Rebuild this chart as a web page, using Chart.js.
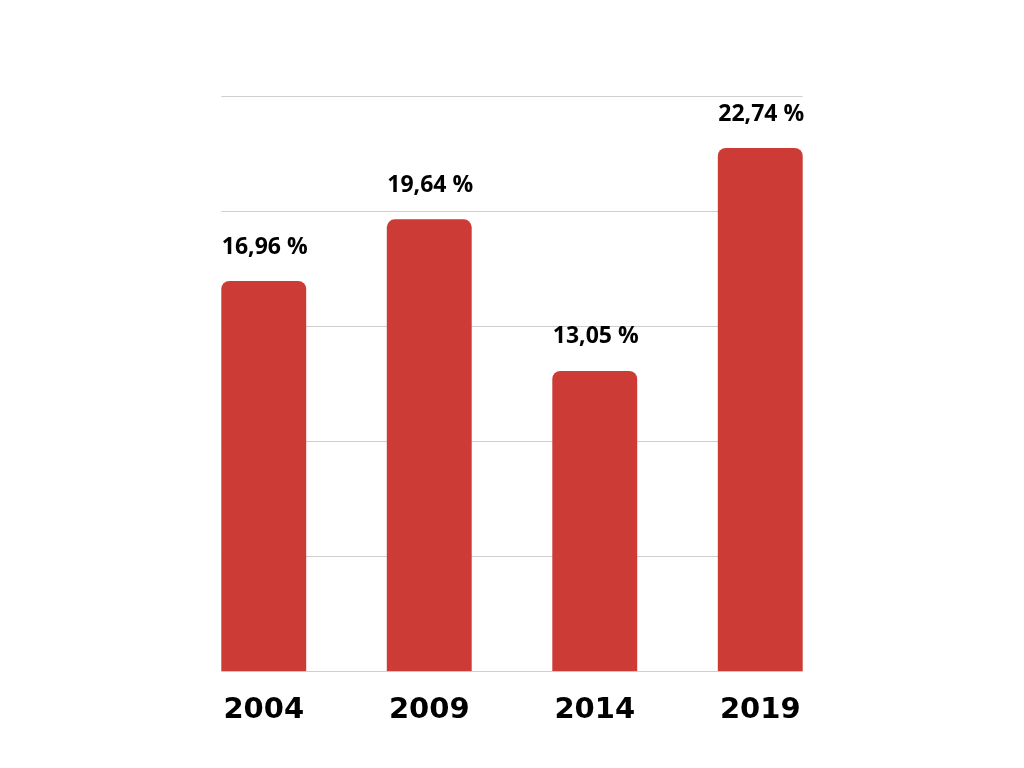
<!DOCTYPE html>
<html>
<head>
<meta charset="utf-8">
<script src="https://cdn.jsdelivr.net/npm/chart.js@4"></script>
<style>
  html, body { margin: 0; padding: 0; background: #fff; }
  #wrap { width: 1024px; height: 768px; }
</style>
</head>
<body>
<div id="wrap"><canvas id="barChart" width="1024" height="768"></canvas></div>
<script>
const years = ['2004', '2009', '2014', '2019'];
const shares = [16.96, 19.64, 13.05, 22.74];
const shareLabels = ['16,96 %', '19,64 %', '13,05 %', '22,74 %'];

// grid lines only span the bars, not the whole chart area
const gridPlugin = {
    id: 'barGrid',
    beforeDatasetsDraw(chart) {
        const bars = chart.getDatasetMeta(0).data;
        const first = bars[0], last = bars[bars.length - 1];
        const left = first.x - first.width / 2;
        const right = last.x + last.width / 2;
        const y = chart.scales.y;
        const ctx = chart.ctx;
        ctx.save();
        ctx.strokeStyle = '#cfcfcf';
        ctx.lineWidth = 1;
        y.ticks.forEach(t => {
            const py = Math.round(y.getPixelForValue(t.value)) + 0.5;
            ctx.beginPath();
            ctx.moveTo(left, py);
            ctx.lineTo(right, py);
            ctx.stroke();
        });
        ctx.restore();
    }
};

const labelPlugin = {
    id: 'valueLabels',
    afterDatasetsDraw(chart) {
        const ctx = chart.ctx;
        ctx.save();
        ctx.font = 'bold 23px "Open Sans"';
        ctx.fillStyle = '#000';
        ctx.textAlign = 'center';
        ctx.textBaseline = 'middle';
        chart.getDatasetMeta(0).data.forEach((bar, i) => {
            ctx.fillText(shareLabels[i], bar.x + 1, bar.y - 34);
        });
        ctx.restore();
    }
};

new Chart(document.getElementById('barChart'), {
    type: 'bar',
    data: {
        labels: years,
        datasets: [{
            data: shares,
            backgroundColor: '#cc3b35',
            borderRadius: 8,
            borderSkipped: 'start',
            categoryPercentage: 1,
            barPercentage: 0.513
        }]
    },
    options: {
        responsive: false,
        animation: false,
        layout: { padding: { left: 173, right: 181, top: 96, bottom: 26 } },
        plugins: {
            legend: { display: false },
            tooltip: { enabled: false }
        },
        scales: {
            x: {
                grid: { display: false },
                border: { display: false },
                ticks: {
                    color: '#000',
                    font: { family: 'DejaVu Sans', weight: 'bold', size: 29 },
                    padding: 14
                }
            },
            y: {
                min: 0,
                max: 25,
                grid: { display: false },
                border: { display: false },
                ticks: { display: false, stepSize: 5 }
            }
        }
    },
    plugins: [gridPlugin, labelPlugin]
});
</script>
</body>
</html>
